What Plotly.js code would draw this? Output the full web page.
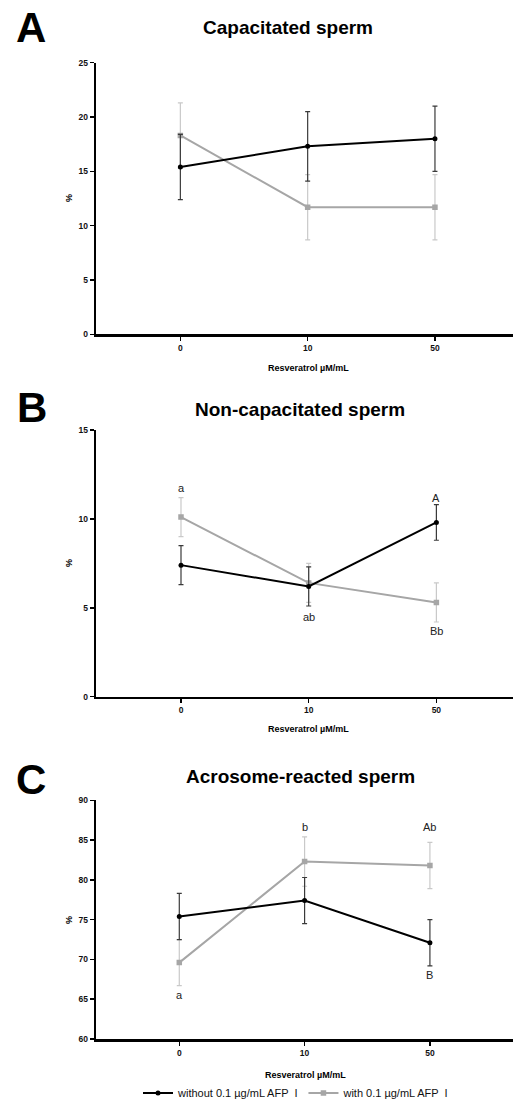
<!DOCTYPE html>
<html>
<head>
<meta charset="utf-8">
<script src="https://cdn.plot.ly/plotly-3.0.1.min.js"></script>
<style>html,body{margin:0;padding:0;background:#fff;}#chart{width:513px;height:1101px;}</style>
</head>
<body>
<div id="chart"></div>
<script>
// ---- data ----
const doses = ['0', '10', '50'];
const seriesNames = ['without 0.1 µg/mL AFP \u00a0I', 'with 0.1 µg/mL AFP \u00a0I'];

const capWithout = [15.4, 17.3, 18.0];
const capWithoutErr = [3.0, 3.2, 3.0];
const capWith = [18.3, 11.7, 11.7];
const capWithErr = [3.0, 3.0, 3.0];

const nonWithout = [7.4, 6.2, 9.8];
const nonWithoutErr = [1.1, 1.1, 1.0];
const nonWith = [10.1, 6.4, 5.3];
const nonWithErr = [1.1, 1.1, 1.1];

const arWithout = [75.4, 77.4, 72.1];
const arWithoutErr = [2.9, 2.9, 2.9];
const arWith = [69.6, 82.3, 81.8];
const arWithErr = [2.9, 3.1, 2.9];

const nonLetterX = ['0', '50', '10', '50'];
const nonLetterY = [11.75, 11.2, 4.5, 3.7];
const nonLetterText = ['a', 'A', 'ab', 'Bb'];

const arLetterX = ['0', '10', '50', '50'];
const arLetterY = [65.5, 86.7, 86.7, 68.0];
const arLetterText = ['a', 'b', 'Ab', 'B'];

const panelTitles = ['Capacitated sperm', 'Non-capacitated sperm', 'Acrosome-reacted sperm'];
const panelLetters = ['A', 'B', 'C'];
const xTitle = 'Resveratrol µM/mL';
const yTitle = '%';

// ---- styles ----
const W = 513, H = 1101;
const BLACK = '#000000', GRAY = '#a6a6a6';
const FONT = 'Liberation Sans, Arial, sans-serif';

function px(x) { return x / W; }
function py(y) { return 1 - y / H; }

function mk(xa, ya, y, err, isBlack, showleg) {
  return {
    type: 'scatter', mode: 'lines+markers',
    x: doses, y: y, xaxis: xa, yaxis: ya,
    name: isBlack ? seriesNames[0] : seriesNames[1],
    legendgroup: isBlack ? 'a' : 'b',
    legendrank: isBlack ? 1 : 2,
    showlegend: showleg,
    line: { color: isBlack ? BLACK : GRAY, width: 2 },
    marker: { color: isBlack ? BLACK : GRAY, size: isBlack ? 5 : 5.5, symbol: isBlack ? 'circle' : 'square' },
    error_y: { type: 'data', array: err, visible: true, color: isBlack ? '#3a3a3a' : '#c9c9c9', thickness: 1.2, width: 2.5 }
  };
}

const data = [
  mk('x', 'y', capWith, capWithErr, false, false),
  mk('x', 'y', capWithout, capWithoutErr, true, false),
  mk('x2', 'y2', nonWith, nonWithErr, false, false),
  mk('x2', 'y2', nonWithout, nonWithoutErr, true, false),
  mk('x3', 'y3', arWith, arWithErr, false, true),
  mk('x3', 'y3', arWithout, arWithoutErr, true, true)
];

const xDom = [px(95.7), 1];
function xax(range, anchor) {
  return {
    domain: xDom, anchor: anchor, type: 'category', categoryorder: 'array', categoryarray: doses,
    range: range, showline: true, linecolor: BLACK, linewidth: 2.5,
    ticks: 'outside', ticklen: 4, tickwidth: 1.5, tickcolor: BLACK,
    showgrid: false, zeroline: false, fixedrange: true,
    tickfont: { family: FONT, size: 8.5, color: '#111', weight: 'bold' }
  };
}
function yax(dom, range, dtick, anchor) {
  return {
    domain: dom, anchor: anchor, range: range, dtick: dtick, tick0: range[0],
    showline: true, linecolor: BLACK, linewidth: 2,
    ticks: 'outside', ticklen: 4, tickwidth: 1.5, tickcolor: BLACK,
    showgrid: false, zeroline: false, fixedrange: true,
    tickfont: { family: FONT, size: 8.5, color: '#111', weight: 'bold' }
  };
}

const annotations = [];
function ann(x, y, text, size, bold, extra) {
  annotations.push(Object.assign({
    xref: 'paper', yref: 'paper', x: px(x), y: py(y), text: text, showarrow: false,
    xanchor: 'center', yanchor: 'middle',
    font: { family: FONT, size: size, color: '#000', weight: bold ? 'bold' : 'normal' }
  }, extra || {}));
}
// panel letters
ann(31, 27, panelLetters[0], 42, true);
ann(32, 408, panelLetters[1], 42, true);
ann(31, 779, panelLetters[2], 42, true);
// titles
ann(288, 27, panelTitles[0], 19, true);
ann(300, 409, panelTitles[1], 19, true);
ann(300, 776, panelTitles[2], 19, true);
// x titles
ann(308, 368, xTitle, 9, true);
ann(308, 729, xTitle, 9, true);
ann(305, 1075, xTitle, 9, true);
// y titles
ann(69, 198, yTitle, 9, true, { textangle: -90 });
ann(69, 563, yTitle, 9, true, { textangle: -90 });
ann(69, 920, yTitle, 9, true, { textangle: -90 });
// significance letters (category index positions)
nonLetterText.forEach((t, i) => annotations.push({
  xref: 'x2', yref: 'y2', x: doses.indexOf(nonLetterX[i]), y: nonLetterY[i], text: t, showarrow: false,
  font: { family: FONT, size: 11, color: '#222' }
}));
arLetterText.forEach((t, i) => annotations.push({
  xref: 'x3', yref: 'y3', x: doses.indexOf(arLetterX[i]), y: arLetterY[i], text: t, showarrow: false,
  font: { family: FONT, size: 11, color: '#222' }
}));

const layout = {
  width: W, height: H,
  margin: { l: 0, r: 0, t: 0, b: 0, autoexpand: false },
  paper_bgcolor: '#fff', plot_bgcolor: '#fff',
  showlegend: true,
  legend: {
    orientation: 'h', x: px(296), xanchor: 'center', y: py(1093), yanchor: 'middle',
    font: { family: FONT, size: 11, color: '#111' }, itemwidth: 30, tracegroupgap: 0,
    bgcolor: 'rgba(0,0,0,0)'
  },
  xaxis: xax([-0.665, 2.613], 'y'),
  yaxis: yax([py(334.3), py(62.7)], [0, 25], 5, 'x'),
  xaxis2: xax([-0.668, 2.6], 'y2'),
  yaxis2: yax([py(696.7), py(430)], [0, 15], 5, 'x2'),
  xaxis3: xax([-0.667, 2.663], 'y3'),
  yaxis3: yax([py(1039), py(800.3)], [60, 90], 5, 'x3'),
  annotations: annotations
};

Plotly.newPlot('chart', data, layout, { displayModeBar: false, staticPlot: true });
</script>
</body>
</html>
